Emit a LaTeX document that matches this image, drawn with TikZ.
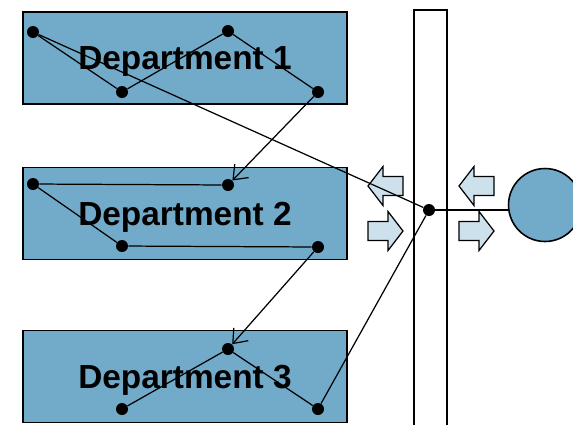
\documentclass[tikz,border=0pt]{standalone}
\usepackage{fontspec}
\setmainfont{Liberation Sans}
\usetikzlibrary{arrows.meta}

\begin{document}
\begin{tikzpicture}[x=0.02cm, y=-0.02cm,
    dept/.style={draw=black, line width=0.9pt, fill=deptblue, minimum width=6.48cm, minimum height=1.84cm, inner sep=0pt, text height=14pt, text depth=0.4pt, font=\bfseries\fontsize{19}{21}\selectfont},
    dot/.style={circle, fill=black, inner sep=0pt, minimum size=0.24cm},
    link/.style={draw=black, line width=0.7pt},
    flow/.style={link, -{Straight Barb[length=7pt, width=11pt]}},
    blockarrow/.style={draw=black, line width=0.7pt, fill=arrowblue}]

% Define colors - matching the reference image
\definecolor{deptblue}{RGB}{114,170,202}
\definecolor{arrowblue}{RGB}{205,225,237}

% picture frame
\clip (0,0) rectangle (573,424);

% Department boxes
\node[dept] (dept1) at (185,58) {Department 1};
\node[dept] (dept2) at (185,213.5) {Department 2};
\node[dept] (dept3) at (185,376.5) {Department 3};

% Vertical bar
\draw[line width=0.9pt, fill=white] (414,10) rectangle (447,440);

% Block arrows: tip x, tip y, direction (1 = left, -1 = right)
\foreach \x/\y/\d in {368/186/1, 459/186/1, 403/231/-1, 494/231/-1} {
    \draw[blockarrow] (\x,\y) -- ++(\d*15,-19.5) -- ++(0,10) -- ++(\d*20,0)
        -- ++(0,19) -- ++(-\d*20,0) -- ++(0,10) -- cycle;
}

% Customer circle
\node[circle, draw=black, line width=0.9pt, fill=deptblue, minimum size=1.46cm, inner sep=0pt] (cust) at (545,205) {};

% Dots inside the departments
\node[dot] (d1a) at (33,32) {};
\node[dot] (d1b) at (122,92) {};
\node[dot] (d1c) at (228,31) {};
\node[dot] (d1d) at (318,92) {};
\node[dot] (d2a) at (33,184) {};
\node[dot] (d2b) at (228,185) {};
\node[dot] (d2c) at (122,246) {};
\node[dot] (d2d) at (318,247) {};
\node[dot] (d3a) at (228,349) {};
\node[dot] (d3b) at (122,409) {};
\node[dot] (d3c) at (318,409) {};
\node[dot] (hub) at (429,210) {};

% Routes
\draw[link] (d1a) -- (d1b) -- (d1c) -- (d1d);
\draw[link] (d1a) -- (hub);
\draw[flow] (d1d) -- (d2b);
\draw[link] (d2b) -- (d2a) -- (d2c) -- (d2d);
\draw[flow] (d2d) -- (d3a);
\draw[link] (d3b) -- (d3a) -- (d3c) -- (hub);
\draw[link] (hub) -- (hub -| cust.west);

\end{tikzpicture}
\end{document}
